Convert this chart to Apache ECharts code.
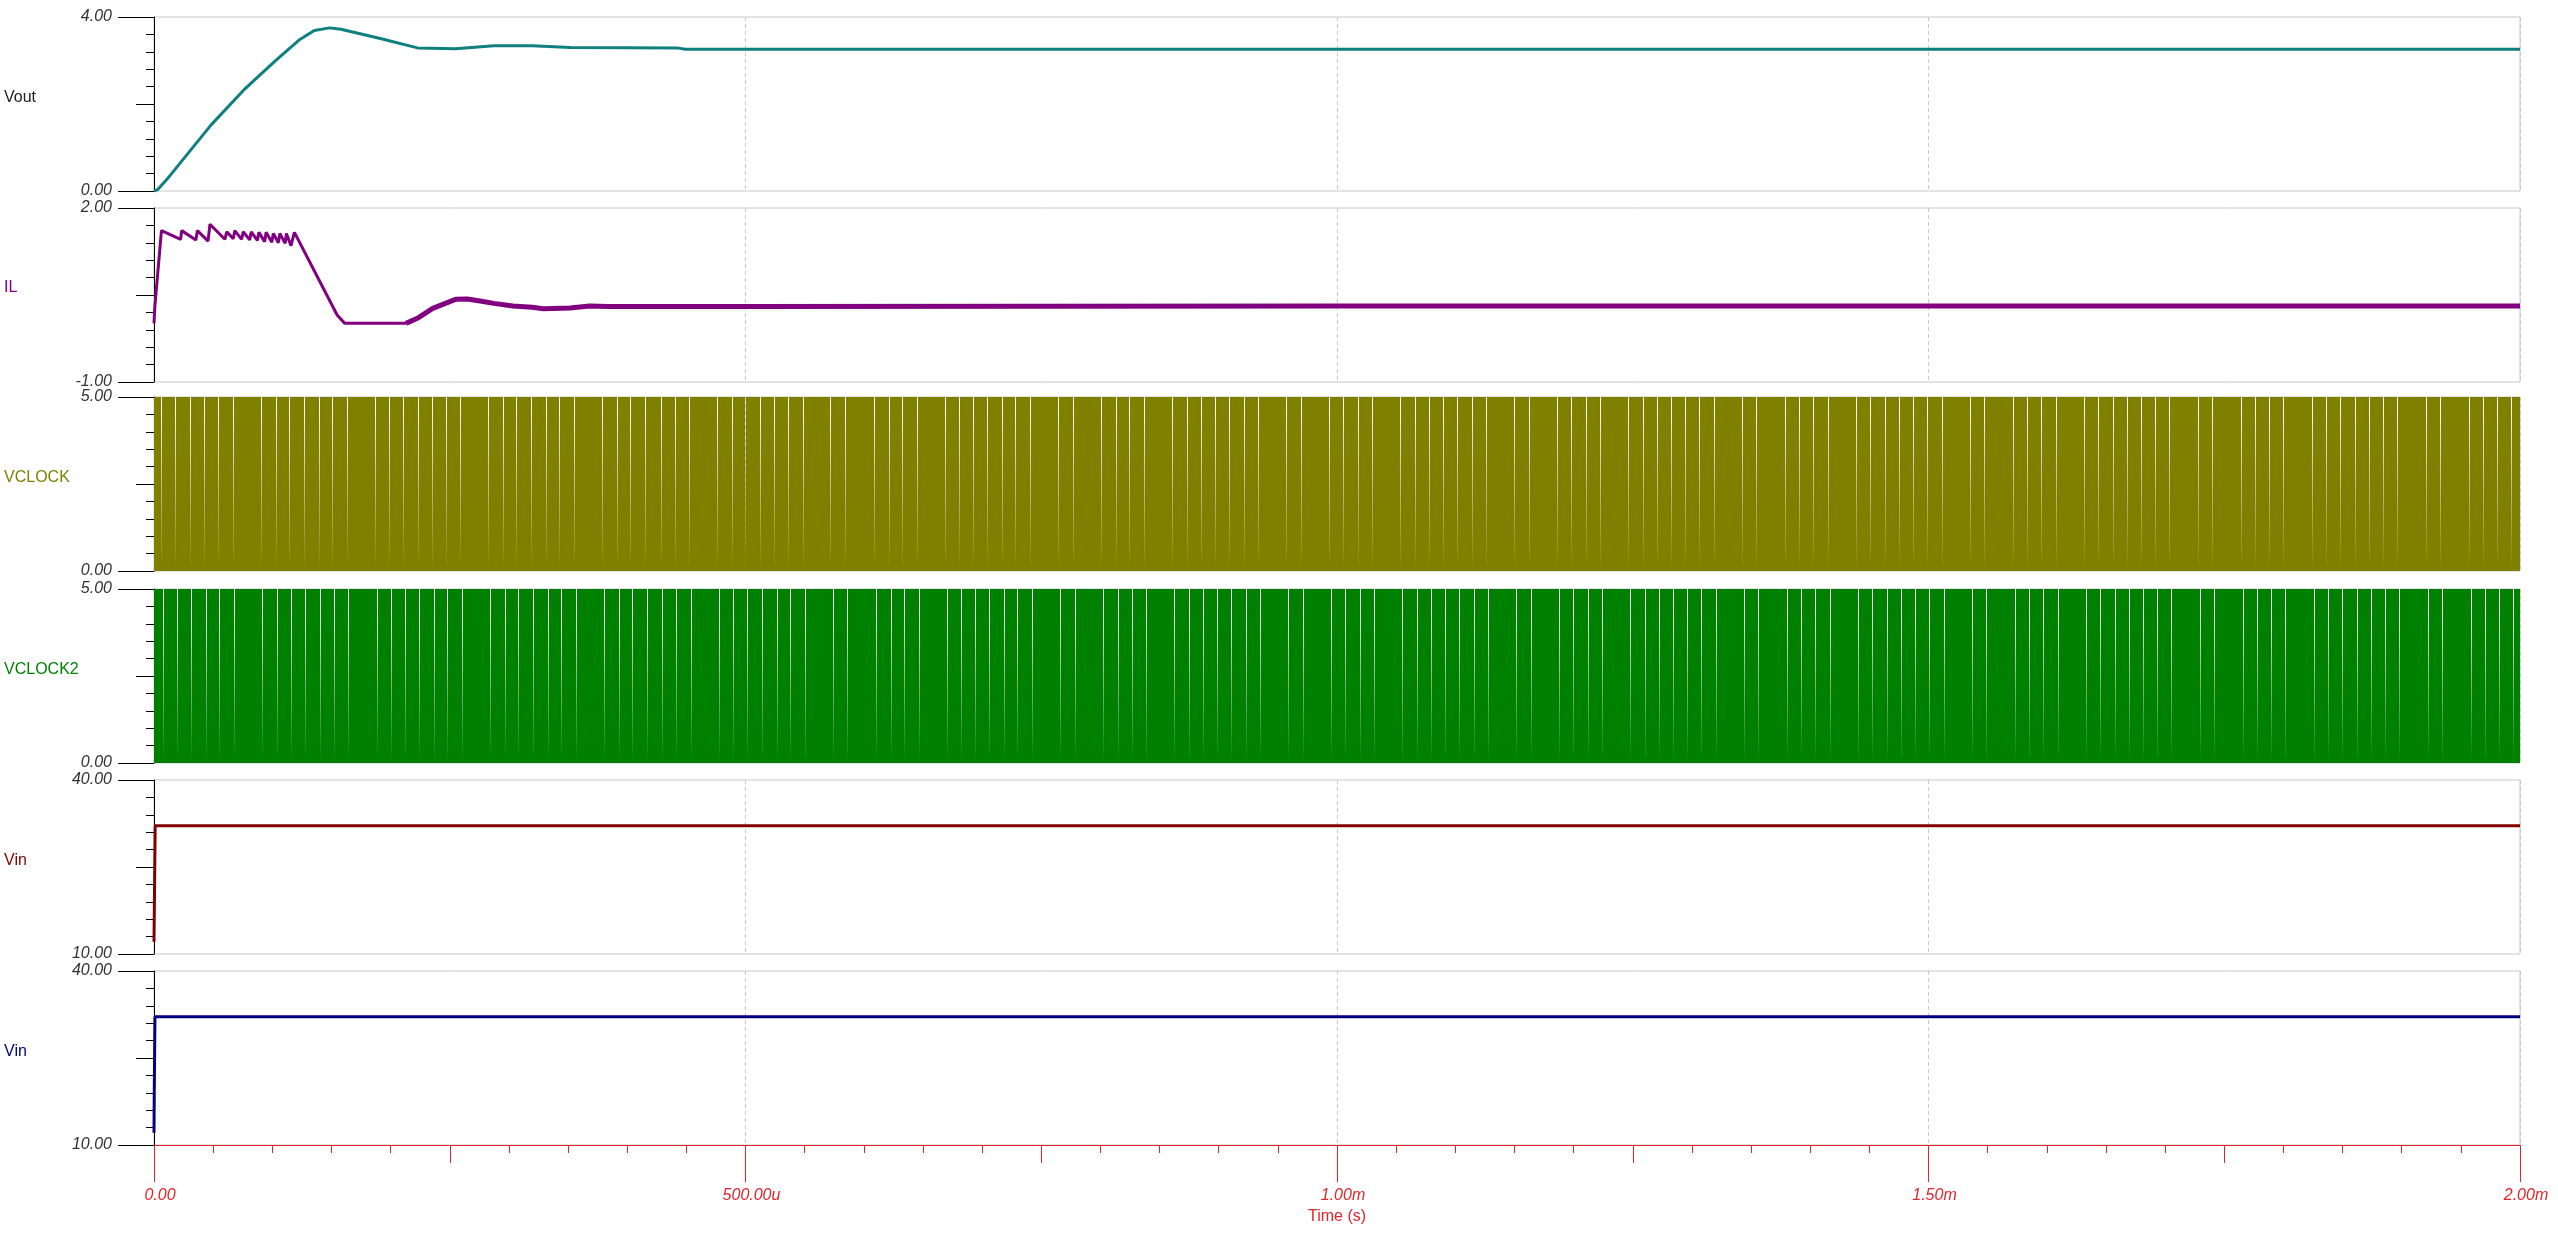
<!DOCTYPE html>
<html><head><meta charset="utf-8">
<script src="https://cdn.jsdelivr.net/npm/echarts@6/dist/echarts.min.js"></script>
<style>html,body{margin:0;padding:0;background:#fff;}#c{width:2558px;height:1237px;}</style>
</head><body><div id="c"></div>
<script>
// ---------------- data ----------------
const PANEL_NAMES = ['Vout', 'IL', 'VCLOCK', 'VCLOCK2', 'Vin', 'Vin'];
const Y_MIN = [0, -1, 0, 0, 10, 10];
const Y_MAX = [4, 2, 5, 5, 40, 40];
const X_MIN = 0, X_MAX = 2; // ms
const X_TICK_VALUES = [0, 0.5, 1, 1.5, 2];
const X_TICK_LABELS = ['0.00', '500.00u', '1.00m', '1.50m', '2.00m'];
const X_NAME = 'Time (s)';

// Vout (time in ms, volts)
const VOUT_T = [0, 0.003, 0.0128, 0.0289, 0.0483, 0.0773, 0.1032, 0.1226, 0.1355, 0.1484, 0.158, 0.1904, 0.2227, 0.255, 0.2873, 0.3196, 0.352, 0.4424, 0.449, 2.0];
const VOUT_V = [0, 0.03, 0.33, 0.87, 1.52, 2.36, 3.01, 3.47, 3.69, 3.75, 3.72, 3.51, 3.29, 3.27, 3.34, 3.34, 3.30, 3.29, 3.26, 3.26];

// IL (time in ms, amps)
const IL_T = [0, 0.0007, 0.0063, 0.0225, 0.0234, 0.0354, 0.0367, 0.0457, 0.0473, 0.0599, 0.0615, 0.0670, 0.0683, 0.0741, 0.0754, 0.0809, 0.0822, 0.0874, 0.0887, 0.0935, 0.0948, 0.0996, 0.1009, 0.1051, 0.1064, 0.1109, 0.1119, 0.1158, 0.1187, 0.1548, 0.1613, 0.2130,
              0.2226, 0.2356, 0.2549, 0.2646, 0.2743, 0.2872, 0.3034, 0.3195, 0.3292, 0.3518, 0.3680, 0.3841, 0.5, 1.0, 2.0];
const IL_V = [0.01, 0.3, 1.61, 1.46, 1.61, 1.45, 1.61, 1.43, 1.72, 1.46, 1.59, 1.47, 1.61, 1.46, 1.59, 1.45, 1.59, 1.44, 1.58, 1.42, 1.58, 1.41, 1.56, 1.40, 1.56, 1.39, 1.56, 1.35, 1.58, 0.155, 0.011, 0.011,
              0.098, 0.27, 0.425, 0.431, 0.402, 0.356, 0.31, 0.287, 0.264, 0.276, 0.31, 0.30, 0.30, 0.31, 0.31];
const IL_RIPPLE_FROM = 0.2130; // ms, trace gets thicker (switching ripple) after this

// Clock low pulses (start times in microseconds)
const CLOCK_HIGH = 5, CLOCK_LOW = 0, CLOCK_LOW_WIDTH_US = 0.845;
const VCLOCK_LOW_US = [5.92, 17.75, 30.43, 42.27, 54.10, 66.78, 90.45, 103.13, 114.12, 126.80, 139.48, 150.47, 163.14, 186.81, 198.65, 210.48, 223.16, 235.00, 246.83, 258.66, 282.33, 295.01, 306.00, 318.68, 331.36, 342.35, 355.03, 378.70, 391.38, 402.37, 415.05,
  428.57, 440.41, 452.24, 475.91, 488.59, 499.58, 512.26, 524.09, 535.93, 548.61, 571.43, 584.11, 608.62, 621.30, 632.29, 644.97, 668.64, 680.47, 692.31, 704.14, 716.82, 727.81, 740.49, 764.16, 776.84, 800.51, 813.19, 824.18, 836.86,
  860.53, 873.21, 885.04, 896.87, 908.71, 921.39, 933.22, 956.89, 969.57, 993.24, 1005.07, 1017.75, 1029.59, 1053.26, 1065.94, 1077.77, 1089.61, 1101.44, 1114.12, 1125.95,
  1149.62, 1162.30, 1185.97, 1197.80, 1210.48, 1222.32, 1245.99, 1258.67, 1270.50, 1282.34, 1294.17, 1306.00, 1318.68, 1342.35, 1354.19, 1378.70, 1390.53, 1402.37, 1415.05,
  1438.72, 1450.55, 1463.23, 1475.07, 1486.90, 1498.73, 1511.41, 1535.08, 1546.92, 1571.43, 1583.27, 1595.10, 1607.78, 1631.45, 1643.28, 1655.96, 1667.80, 1679.63, 1691.47, 1703.30,
  1727.81, 1739.65, 1764.16, 1776.00, 1787.83, 1799.67, 1824.18, 1836.01, 1847.85, 1860.53, 1872.36, 1884.20, 1896.03, 1920.54, 1932.38, 1956.89, 1968.73, 1980.56, 1992.40];
const VCLOCK2_LOW_US = [7.61, 19.44, 31.28, 43.96, 54.95, 67.62, 91.29, 103.97, 115.81, 127.64, 140.32, 152.16, 163.99, 188.50, 200.34, 212.17, 224.01, 236.69, 247.68, 260.36, 284.02, 296.70, 307.69, 320.37, 333.05, 344.04, 356.72, 380.39, 393.07, 404.06, 416.74,
  429.42, 441.25, 453.93, 477.60, 489.43, 501.27, 513.95, 526.63, 537.62, 550.30, 573.97, 585.80, 610.31, 622.99, 633.98, 646.66, 670.33, 682.17, 694.00, 705.83, 718.51, 729.50, 742.18, 765.85, 778.53, 802.20, 814.88, 826.71, 838.55,
  862.22, 874.90, 886.73, 898.56, 910.40, 923.08, 934.91, 958.58, 971.26, 994.93, 1006.76, 1019.44, 1031.28, 1054.95, 1067.63, 1079.46, 1091.30, 1103.13, 1115.81, 1127.64,
  1151.31, 1163.99, 1187.66, 1199.49, 1212.17, 1224.01, 1247.68, 1260.36, 1272.19, 1284.03, 1295.86, 1307.69, 1320.37, 1344.04, 1355.88, 1380.39, 1392.22, 1404.06, 1416.74,
  1440.41, 1452.24, 1464.92, 1476.76, 1488.59, 1500.42, 1513.10, 1536.77, 1548.61, 1573.12, 1584.96, 1596.79, 1609.47, 1633.14, 1644.97, 1657.65, 1669.49, 1681.32, 1693.16, 1704.99,
  1729.50, 1741.34, 1765.85, 1777.69, 1789.52, 1801.36, 1825.87, 1837.70, 1849.54, 1862.22, 1874.05, 1885.89, 1897.72, 1922.23, 1934.07, 1958.58, 1970.42, 1982.25, 1994.09];

// Vin (time in ms, volts)
const VIN_T = [0, 0.001, 2.0];
const VIN_V = [12.1, 32.1, 32.1];
const VIN2_T = [0, 0.0002, 0.0008, 2.0];
const VIN2_V = [12.1, 18.6, 32.1, 32.1];

// ---------------- layout / style ----------------
const FONT = 'Liberation Sans, Arial, sans-serif';
const LEFT = 154, WIDTH = 2366, HEIGHT = 174;
const TOPS = [17, 208, 397, 589, 780, 971];
const NAME_Y = [98, 288, 478, 670, 861, 1052];
const COLORS = ['#0f7f7f', '#800080', '#808000', '#008000', '#800000', '#000080'];
const NAME_COLORS = ['#222222', '#800080', '#808000', '#008000', '#800000', '#000080'];
const RED = '#e0262c';
const GRID_GRAY = '#c8c8c8';

const zip = (t, v) => t.map((x, i) => [x, v[i]]);
function clockData(lows) {
  const d = [[X_MIN, CLOCK_HIGH]];
  lows.forEach(g => {
    const a = g / 1000, b = (g + CLOCK_LOW_WIDTH_US) / 1000;
    d.push([a, CLOCK_HIGH], [a, CLOCK_LOW], [b, CLOCK_LOW], [b, CLOCK_HIGH]);
  });
  d.push([X_MAX, CLOCK_HIGH]);
  return d;
}

const grids = TOPS.map(t => ({ left: LEFT, width: WIDTH, top: t, height: HEIGHT, show: true, borderColor: GRID_GRAY, borderWidth: 1, backgroundColor: 'transparent' }));

const xAxes = TOPS.map((t, i) => ({
  gridIndex: i, type: 'value', min: X_MIN, max: X_MAX, interval: 0.5, position: 'bottom',
  axisLine: { show: false, onZero: false }, axisTick: { show: false }, axisLabel: { show: false },
  splitLine: { show: true, lineStyle: { color: GRID_GRAY, width: 1, type: [4, 3] } }
}));
xAxes.push({
  gridIndex: 5, type: 'value', min: X_MIN, max: X_MAX, interval: 0.25, position: 'bottom',
  axisLine: { show: true, onZero: false, lineStyle: { color: RED, width: 1 } },
  axisTick: { show: true, length: 18, lineStyle: { color: RED, width: 1 } },
  minorTick: { show: true, splitNumber: 5, length: 8, lineStyle: { color: RED, width: 1 } },
  axisLabel: { show: false }, splitLine: { show: false }
});
xAxes.push({
  gridIndex: 5, type: 'value', min: X_MIN, max: X_MAX, interval: 0.5, position: 'bottom',
  axisLine: { show: false, onZero: false },
  axisTick: { show: true, length: 37, lineStyle: { color: RED, width: 1 } },
  axisLabel: {
    show: true, margin: 43, color: RED, fontStyle: 'italic', fontSize: 16, fontFamily: FONT, padding: [0, 0, 0, 12],
    formatter: v => { const k = X_TICK_VALUES.findIndex(x => Math.abs(x - v) < 1e-9); return k >= 0 ? X_TICK_LABELS[k] : ''; }
  },
  splitLine: { show: false },
  name: X_NAME, nameLocation: 'middle', nameGap: 64,
  nameTextStyle: { color: RED, fontSize: 16, fontFamily: FONT }
});

const yAxes = [];
TOPS.forEach((t, i) => {
  const mn = Y_MIN[i], mx = Y_MAX[i];
  yAxes.push({
    gridIndex: i, type: 'value', min: mn, max: mx, interval: (mx - mn) / 2, position: 'left',
    axisLine: { show: true, onZero: false, lineStyle: { color: '#000', width: 1 } },
    axisTick: { show: true, length: 18, lineStyle: { color: '#000', width: 1 } },
    minorTick: { show: true, splitNumber: 5, length: 8, lineStyle: { color: '#000', width: 1 } },
    axisLabel: { show: false }, splitLine: { show: false }
  });
  yAxes.push({
    gridIndex: i, type: 'value', min: mn, max: mx, interval: (mx - mn), position: 'left',
    axisLine: { show: false, onZero: false },
    axisTick: { show: true, length: 36, lineStyle: { color: '#000', width: 1 } },
    axisLabel: { show: true, margin: 42, color: '#333', fontStyle: 'italic', fontSize: 16, fontFamily: FONT, formatter: v => v.toFixed(2), showMinLabel: true, showMaxLabel: true },
    splitLine: { show: false }
  });
});

const lineBase = (i, data, w) => ({
  type: 'line', xAxisIndex: i, yAxisIndex: 2 * i, data, showSymbol: false, symbol: 'none',
  lineStyle: { color: COLORS[i], width: w }, itemStyle: { color: COLORS[i] }, animation: false, z: 3
});

const ilAll = zip(IL_T, IL_V);
const ilSplit = IL_T.findIndex(t => t >= IL_RIPPLE_FROM);

const series = [
  lineBase(0, zip(VOUT_T, VOUT_V), 3),
  lineBase(1, ilAll.slice(0, ilSplit + 1), 3),
  lineBase(1, ilAll.slice(ilSplit), 5),
  Object.assign(lineBase(2, clockData(VCLOCK_LOW_US), 0), { lineStyle: { width: 0, opacity: 0 }, areaStyle: { color: COLORS[2], opacity: 1 } }),
  Object.assign(lineBase(3, clockData(VCLOCK2_LOW_US), 0), { lineStyle: { width: 0, opacity: 0 }, areaStyle: { color: COLORS[3], opacity: 1 } }),
  lineBase(4, zip(VIN_T, VIN_V), 3),
  lineBase(5, zip(VIN2_T, VIN2_V), 3)
];

const graphic = PANEL_NAMES.map((n, i) => ({
  type: 'text', x: 4, y: NAME_Y[i],
  style: { text: n, fill: NAME_COLORS[i], font: '16px ' + FONT, verticalAlign: 'middle', align: 'left' }
}));

const chart = echarts.init(document.getElementById('c'), null, { renderer: 'canvas' });
chart.setOption({
  animation: false, backgroundColor: '#ffffff',
  grid: grids, xAxis: xAxes, yAxis: yAxes, series, graphic
});
</script></body></html>
